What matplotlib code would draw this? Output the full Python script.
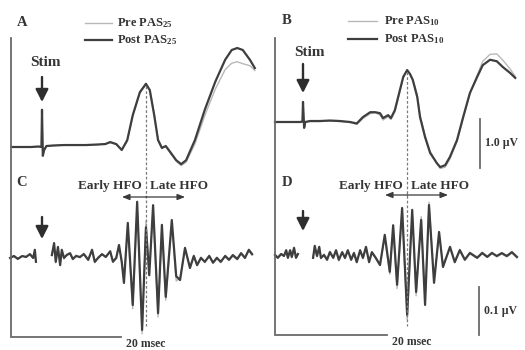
import numpy as np
import matplotlib
matplotlib.use("Agg")
import matplotlib.pyplot as plt

# ---------------- data: time (ms after stimulus), amplitude (µV) ----------------
# Panel A: SEP, PAS25
a_t = [-5.6, -4.0, -2.0, -0.6, -0.1, 0.0, 0.15, 0.4, 0.8, 2.0, 4.0, 6.0, 8.0, 10.0, 11.5,
       12.4, 13.5, 14.5, 15.5, 16.5, 17.8, 18.9, 19.6, 20.4, 21.1, 21.8, 22.5, 23.3, 24.4,
       25.3, 26.2, 27.8, 29.6, 31.5, 33.3, 34.5, 35.5, 36.5, 37.8, 38.7]
a_post = [0.00, 0.00, 0.00, 0.01, 0.00, 0.76, -0.18, -0.06, 0.02, 0.03, 0.04, 0.04, 0.04, 0.05, 0.06,
          0.10, 0.06, -0.06, 0.14, 0.65, 1.12, 1.29, 1.16, 0.65, 0.14, -0.02, 0.02, -0.10, -0.27,
          -0.35, -0.27, 0.14, 0.76, 1.33, 1.78, 1.98, 2.02, 1.98, 1.78, 1.61]
a_pre = [0.00, 0.00, 0.00, 0.01, 0.00, 0.72, -0.16, -0.05, 0.02, 0.03, 0.04, 0.04, 0.04, 0.05, 0.06,
         0.09, 0.05, -0.07, 0.12, 0.62, 1.10, 1.27, 1.17, 0.68, 0.16, 0.00, 0.01, -0.12, -0.29,
         -0.38, -0.31, 0.06, 0.64, 1.18, 1.58, 1.71, 1.74, 1.70, 1.66, 1.56]

# Panel B: SEP, PAS10
b_t = [-5.0, -2.3, -0.5, -0.1, 0.0, 0.2, 0.4, 1.25, 3.0, 4.8, 6.6, 8.4, 9.6, 10.7, 12.0,
       12.9, 13.75, 14.3, 15.2, 15.7, 16.4, 17.3, 17.9, 18.6, 19.1, 19.6, 20.4, 20.9, 21.8,
       22.7, 23.9, 24.5, 25.4, 26.25, 27.5, 28.6, 29.8, 31.1, 32.1, 33.4, 34.6, 35.7, 37.0, 37.9]
b_post = [0.00, 0.00, 0.00, 0.01, 0.41, -0.12, 0.00, 0.02, 0.02, 0.03, 0.02, 0.00, -0.03, 0.10, 0.20,
          0.20, 0.18, 0.08, 0.14, 0.08, 0.24, 0.65, 0.92, 1.06, 0.98, 0.86, 0.51, 0.10, -0.31,
          -0.63, -0.84, -0.92, -0.88, -0.71, -0.37, 0.10, 0.59, 0.92, 1.16, 1.27, 1.24, 1.12, 1.00, 0.90]
b_pre = [0.00, 0.00, 0.00, 0.01, 0.38, -0.10, 0.00, 0.01, 0.01, 0.02, 0.01, -0.01, -0.05, 0.07, 0.17,
         0.19, 0.14, 0.04, 0.11, 0.05, 0.20, 0.62, 0.90, 1.05, 0.99, 0.88, 0.55, 0.14, -0.27,
         -0.60, -0.84, -0.95, -0.92, -0.75, -0.40, 0.07, 0.58, 0.95, 1.24, 1.38, 1.39, 1.26, 1.08, 0.93]

nan = np.nan
# Panel C: HFO, PAS25 (stimulus artefact removed -> gap)
c_t = [-5.8, -5.1, -4.4, -3.6, -2.9, -2.2, -1.6, -1.3, -1.1, 0.0, 1.8, 2.2, 2.5, 2.9, 3.3,
       3.6, 4.0, 4.5, 5.1, 5.6, 6.2, 6.9, 7.6, 8.4, 9.1, 9.6, 10.2, 10.9, 11.6, 12.4, 12.9,
       13.5, 14.0, 14.5, 14.9, 15.6, 16.5, 17.3, 18.2, 18.9, 19.5, 20.2, 21.1, 21.8, 22.5,
       23.6, 24.4, 25.1, 26.0, 26.9, 27.6, 28.2, 28.9, 29.6, 30.4, 31.1, 31.8, 32.5, 33.3,
       34.0, 34.7, 35.5, 36.2, 36.9, 37.6, 38.2]
c_post = [-0.002, 0.002, -0.004, 0.002, 0.000, 0.006, -0.002, 0.015, -0.010, nan, 0.004, 0.029,
          -0.010, 0.021, -0.017, 0.015, -0.002, 0.004, 0.008, -0.004, 0.002, 0.000, 0.006, -0.006,
          0.015, -0.010, -0.002, 0.006, 0.000, 0.012, -0.010, -0.002, 0.025, -0.010, -0.054,
          0.071, -0.100, 0.115, -0.152, 0.062, -0.038, 0.108, -0.117, 0.067, -0.083, 0.077,
          -0.040, -0.048, 0.019, -0.023, 0.002, -0.017, -0.002, -0.010, 0.002, -0.012, -0.002,
          -0.010, 0.002, -0.006, 0.004, -0.004, 0.008, -0.002, 0.015, 0.006]
c_pre = [-0.002, 0.003, -0.003, 0.002, 0.001, 0.005, -0.003, 0.013, -0.008, nan, 0.006, 0.025,
         -0.012, 0.018, -0.015, 0.012, -0.004, 0.006, 0.006, -0.006, 0.004, -0.002, 0.008, -0.004,
         0.012, -0.012, 0.000, 0.004, 0.002, 0.010, -0.008, 0.000, 0.022, -0.012, -0.050,
         0.060, -0.108, 0.105, -0.160, 0.075, -0.030, 0.100, -0.125, 0.058, -0.090, 0.070,
         -0.050, -0.044, 0.015, -0.020, 0.004, -0.015, 0.000, -0.012, 0.004, -0.010, 0.000,
         -0.012, 0.004, -0.004, 0.002, -0.006, 0.006, 0.000, 0.012, 0.004]

# Panel D: HFO, PAS10
d_t = [-5.0, -4.5, -3.9, -3.4, -3.0, -2.7, -2.3, -2.0, -1.6, -1.25, -0.9, 0.0, 1.8, 2.1, 2.5,
       2.9, 3.2, 3.75, 4.3, 4.8, 5.4, 5.9, 6.4, 7.0, 7.5, 8.0, 8.6, 9.1, 9.6, 10.2, 10.7,
       11.25, 11.8, 12.3, 13.0, 13.75, 14.6, 15.5, 16.1, 16.8, 17.7, 18.6, 19.5, 20.2, 21.1,
       21.8, 22.5, 23.4, 24.3, 25.0, 26.25, 27.1, 28.0, 28.9, 29.8, 31.1, 32.0, 32.9, 33.75,
       34.6, 35.5, 36.4, 37.3, 38.2]
d_post = [0.000, -0.006, 0.002, -0.002, 0.010, -0.006, 0.010, -0.004, 0.015, -0.006, 0.002, nan,
          -0.006, 0.019, -0.002, 0.017, -0.006, 0.000, -0.010, 0.006, -0.006, 0.010, -0.010,
          0.006, -0.006, 0.010, -0.010, 0.004, -0.015, 0.010, -0.006, 0.017, -0.015, 0.006,
          -0.006, -0.021, 0.042, -0.035, 0.062, -0.062, 0.098, -0.125, 0.094, -0.077, 0.073,
          -0.104, 0.104, -0.058, 0.048, -0.025, 0.017, -0.015, 0.010, -0.010, 0.004, -0.006,
          0.004, -0.004, 0.004, -0.002, 0.004, -0.002, 0.006, -0.004]
d_pre = [0.002, -0.004, 0.003, -0.003, 0.008, -0.005, 0.008, -0.006, 0.012, -0.004, 0.003, nan,
         -0.004, 0.016, -0.004, 0.014, -0.008, 0.002, -0.008, 0.008, -0.004, 0.008, -0.012,
         0.004, -0.008, 0.008, -0.008, 0.006, -0.012, 0.008, -0.008, 0.014, -0.012, 0.004,
         -0.008, -0.018, 0.036, -0.040, 0.055, -0.070, 0.090, -0.135, 0.085, -0.085, 0.080,
         -0.095, 0.110, -0.050, 0.040, -0.020, 0.014, -0.012, 0.012, -0.008, 0.006, -0.004,
         0.006, -0.002, 0.006, -0.004, 0.002, -0.004, 0.004, -0.006]

legend_a = ["Pre PAS$_{25}$", "Post PAS$_{25}$"]
legend_b = ["Pre PAS$_{10}$", "Post PAS$_{10}$"]
hfo_labels = ["Early HFO", "Late HFO"]
scale_time_ms = 20
scale_sep_uv = 1.0
scale_hfo_uv = 0.1

# ---------------- styling / layout ----------------
plt.rcParams['font.family'] = ['Liberation Serif', 'DejaVu Serif']
plt.rcParams['font.weight'] = 'bold'
plt.rcParams['mathtext.fontset'] = 'custom'
plt.rcParams['mathtext.rm'] = 'Liberation Serif:bold'
plt.rcParams['mathtext.it'] = 'Liberation Serif:bold'
plt.rcParams['mathtext.bf'] = 'Liberation Serif:bold'

W, H = 525, 350
TXT = '#353535'
POST = '#3e3e3e'
PRE = '#b8b8b8'
fig = plt.figure(figsize=(W / 100, H / 100), dpi=100)
fig.patch.set_facecolor('white')

# pixel layout: (x0, x1, y_top, y_bot, stim_px, baseline_px, px_per_ms, px_per_uV)
LAY = {
    'A': (0, 262, 0, 175, 42, 147, 5.5, 49),
    'C': (0, 262, 175, 350, 42, 257, 5.5, 480),
    'B': (262, 525, 0, 175, 303, 122, 5.6, 49),
    'D': (262, 525, 175, 350, 303, 255, 5.6, 480),
}


def panel(key):
    x0, x1, yt, yb, sp, bp, pxms, pxuv = LAY[key]
    ax = fig.add_axes([x0 / W, 1 - yb / H, (x1 - x0) / W, (yb - yt) / H])
    ax.set_xlim((x0 - sp) / pxms, (x1 - sp) / pxms)
    ax.set_ylim((bp - yb) / pxuv, (bp - yt) / pxuv)
    ax.axis('off')
    return ax


series = {'A': (a_t, a_pre, a_post), 'B': (b_t, b_pre, b_post),
          'C': (c_t, c_pre, c_post), 'D': (d_t, d_pre, d_post)}
axes = {}
for k, (t, pre, post) in series.items():
    ax = panel(k)
    ax.plot(t, pre, color=PRE, lw=1.0, solid_joinstyle='round')
    ax.plot(t, post, color=POST, lw=1.6, solid_joinstyle='round')
    axes[k] = ax

# overlay in pixel coordinates for annotations
ov = fig.add_axes([0, 0, 1, 1], zorder=10)
ov.set_xlim(0, W)
ov.set_ylim(H, 0)
ov.axis('off')
ov.patch.set_alpha(0)


def px(key, t, v):
    x0, x1, yt, yb, sp, bp, pxms, pxuv = LAY[key]
    return sp + t * pxms, bp - v * pxuv


AXC = '#6a6a6a'
# L-shaped axes + 20 ms bars
for key, xa, ytop, ybot in (('C', 11, 38, 337), ('D', 275, 38, 335)):
    pxms = LAY[key][6]
    ov.plot([xa, xa, xa + scale_time_ms * pxms], [ytop, ybot, ybot], color=AXC, lw=1.3,
            solid_joinstyle='miter')
    ov.text(xa + scale_time_ms * pxms + 25, ybot + 7, f"{scale_time_ms} msec", ha='center',
            va='center', fontsize=8.5, color=TXT)

# amplitude scale bars
ov.plot([480, 480], [119, 119 + scale_sep_uv * LAY['B'][7]], color=AXC, lw=1.3)
ov.text(485, 143, f"{scale_sep_uv:.1f} µV", ha='left', va='center', fontsize=8.5, color=TXT)
ov.plot([479, 479], [287, 287 + scale_hfo_uv * LAY['D'][7]], color=AXC, lw=1.3)
ov.text(484, 311, f"{scale_hfo_uv:.1f} µV", ha='left', va='center', fontsize=8.5, color=TXT)

# panel letters
for lab, (x, y) in {'A': (22, 23), 'B': (287, 20), 'C': (22, 183), 'D': (287, 183)}.items():
    ov.text(x, y, lab, ha='center', va='center', fontsize=10.5, color=TXT)

# legends
for (xl0, xl1, xt, ys), labels in (((85, 112, 117, (23, 40)), legend_a),
                                   ((348, 377, 384, (21, 39)), legend_b)):
    ov.plot([xl0, xl1], [ys[0], ys[0]], color=PRE, lw=1.0)
    ov.plot([xl0, xl1], [ys[1], ys[1]], color=POST, lw=1.6)
    ov.text(xt, ys[0], labels[0], ha='left', va='center', fontsize=9, color=TXT)
    ov.text(xt, ys[1], labels[1], ha='left', va='center', fontsize=9, color=TXT)

# stim arrows
ov.text(45, 62, "Stim", ha='center', va='center', fontsize=11, color=TXT)
ov.text(309, 52, "Stim", ha='center', va='center', fontsize=11, color=TXT)
for key, ys, ye in (('A', 77, 102), ('B', 64, 93), ('C', 217, 239), ('D', 211, 231)):
    xs, _ = px(key, 0.0, 0.0)
    ov.annotate('', xy=(xs, ye), xytext=(xs, ys),
                arrowprops=dict(arrowstyle='-|>,head_length=0.75,head_width=0.38',
                                lw=1.7, color='#2e2e2e', shrinkA=0, shrinkB=0))

# N20 dashed lines and HFO brackets
for top, bot, (xl, xr), ybr, ytx in (('A', 'C', (122, 185), 197, 186), ('B', 'D', (385, 448), 195, 186)):
    t, pre, post = series[top]
    i = int(np.argmax([v if 15 < tt < 22 else -9 for tt, v in zip(t, post)]))
    xd, yd = px(top, t[i], post[i])
    ov.plot([xd, xd], [yd + 2, 326], ls=(0, (2.2, 1.6)), color='#7a7a7a', lw=0.9)
    for xe in (xl, xr):
        ov.annotate('', xy=(xe, ybr), xytext=(xd, ybr),
                    arrowprops=dict(arrowstyle='-|>,head_length=0.45,head_width=0.18',
                                    lw=0.9, color='#3a3a3a', shrinkA=0, shrinkB=0))
    ov.text(xd - 4, ytx, hfo_labels[0], ha='right', va='center', fontsize=9.5, color=TXT)
    ov.text(xd + 4, ytx, hfo_labels[1], ha='left', va='center', fontsize=9.5, color=TXT)

fig.savefig('out.png', dpi=100, facecolor='white')
